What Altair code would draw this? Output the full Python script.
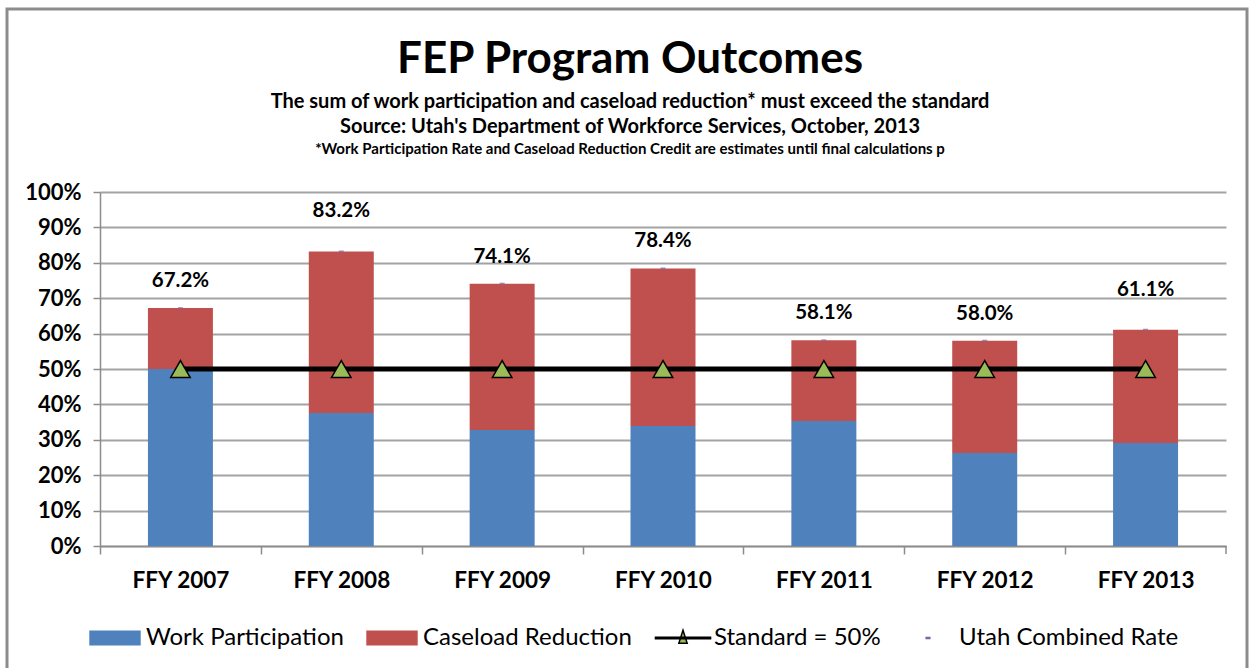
import altair as alt
import pandas as pd

# ---- data ----
YEARS = ["FFY 2007", "FFY 2008", "FFY 2009", "FFY 2010", "FFY 2011", "FFY 2012", "FFY 2013"]
WORK = [50.0, 37.6, 32.8, 33.9, 35.3, 26.3, 29.1]          # Work Participation (%)
TOTAL = [67.2, 83.2, 74.1, 78.4, 58.1, 58.0, 61.1]         # Utah Combined Rate (%)
STANDARD = [50, 50, 50, 50, 50, 50, 50]                    # Standard = 50%
SERIES = ["Work Participation", "Caseload Reduction", "Standard = 50%", "Utah Combined Rate"]
Y_TICKS = [0, 10, 20, 30, 40, 50, 60, 70, 80, 90, 100]
RAISED_LABELS = ["FFY 2008", "FFY 2013"]

TITLE = "FEP Program Outcomes"
SUB1 = "The sum of work participation and caseload reduction* must exceed the standard"
SUB2 = "Source: Utah's Department of Workforce Services, October, 2013"
SUB3 = "*Work Participation Rate and Caseload Reduction Credit are estimates until final calculations p"

BLUE, RED, GREEN, PURPLE = "#4F81BD", "#C0504D", "#9BBB59", "#8064A2"
GRID = "#a3a3a3"
AXIS = "#8c8c8c"
FONT = "Lato"

# ---- tables ----
bars = pd.DataFrame(
    [{"year": y, "series": "Work Participation", "start": 0.0, "end": w}
     for y, w in zip(YEARS, WORK)]
    + [{"year": y, "series": "Caseload Reduction", "start": w, "end": t}
       for y, w, t in zip(YEARS, WORK, TOTAL)]
)
totals = pd.DataFrame({"year": YEARS, "total": TOTAL})
std = pd.DataFrame({"year": YEARS, "std": STANDARD})
legend_df = pd.DataFrame({"legend_series": SERIES})

W, H = 1126, 354
STEP = W / len(YEARS)

x_scale = alt.Scale(domain=YEARS, paddingInner=0.596, paddingOuter=0.298)
x_axis = alt.Axis(title=None, labelAngle=0, labelFont=FONT, labelFontWeight="bold",
                  labelFontSize=22.5, labelColor="black", tickSize=8,
                  tickOffset=-STEP / 2, labelOffset=STEP / 2, tickColor=AXIS, tickWidth=1.5,
                  domainColor=AXIS, domainWidth=1.5, labelPadding=15, grid=False)
y_scale = alt.Scale(domain=[0, 100], nice=False)
y_axis = alt.Axis(title=None, values=Y_TICKS, labelExpr="datum.value + '%'",
                  labelFont=FONT, labelFontWeight="bold", labelFontSize=22,
                  labelColor="black", tickSize=7, tickColor=AXIS, tickWidth=1.5,
                  domainColor=AXIS, domainWidth=1.5, labelPadding=12, labelOverlap=False,
                  grid=True, gridColor=GRID, gridWidth=1.8, tickCount=11)


def X():
    return alt.X("year:N", sort=YEARS, scale=x_scale, axis=x_axis)


def Y(field):
    return alt.Y(field, scale=y_scale, axis=y_axis)


bar_layer = alt.Chart(bars).mark_bar().encode(
    x=X(),
    y=Y("start:Q"),
    y2="end:Q",
    color=alt.Color("series:N", scale=alt.Scale(domain=SERIES[:2], range=[BLUE, RED]),
                    legend=None),
)

dash_layer = alt.Chart(totals).mark_tick(color=PURPLE, size=5, thickness=2, orient="horizontal").encode(
    x=X(), y=Y("total:Q"),
)

label_base = alt.Chart(totals).transform_calculate(
    lab="format(datum.total, '.1f') + '%'"
)
label_normal = label_base.transform_filter(
    alt.FieldOneOfPredicate(field="year", oneOf=[y for y in YEARS if y not in RAISED_LABELS])
).mark_text(font=FONT, fontWeight="bold", fontSize=20.5, color="black", dy=-27, baseline="middle").encode(
    x=X(), y=Y("total:Q"), text="lab:N"
)
label_raised = label_base.transform_filter(
    alt.FieldOneOfPredicate(field="year", oneOf=RAISED_LABELS)
).mark_text(font=FONT, fontWeight="bold", fontSize=20.5, color="black", dy=-40, baseline="middle").encode(
    x=X(), y=Y("total:Q"), text="lab:N"
)

std_line = alt.Chart(std).mark_line(color="black", strokeWidth=5).encode(
    x=X(), y=Y("std:Q")
)
std_pts = alt.Chart(std).mark_point(shape="triangle-up", filled=True, fill=GREEN, stroke="black",
                                     strokeWidth=1.5, size=380, opacity=1).encode(
    x=X(), y=Y("std:Q")
)

# closing tick at the right end of the category axis
end_tick = alt.Chart(alt.Data(values=[{}])).mark_rule(color=AXIS, strokeWidth=1.5).encode(
    x=alt.value(W), y=alt.value(H), y2=alt.value(H + 8)
)

# legend carrier (drawn off-view, clipped)
SHAPES = [
    "M-0.96,-0.26H0.96V0.26H-0.96Z",
    "M-0.96,-0.26H0.96V0.26H-0.96Z",
    "M-1.06,-0.025H1.06V0.025H-1.06Z M0,-0.3L0.16,0.2L-0.16,0.2Z",
    "M-0.07,-0.02H0.07V0.02H-0.07Z",
]
legend_layer = alt.Chart(legend_df).mark_point(filled=True, strokeWidth=2.2, clip=True).encode(
    x=alt.value(-3000), y=alt.value(-3000),
    fill=alt.Fill("legend_series:N", sort=SERIES,
                  scale=alt.Scale(domain=SERIES, range=[BLUE, RED, GREEN, PURPLE]),
                  legend=alt.Legend(title=None)),
    stroke=alt.Stroke("legend_series:N", sort=SERIES,
                      scale=alt.Scale(domain=SERIES, range=[BLUE, RED, "black", PURPLE]),
                      legend=alt.Legend(title=None)),
    shape=alt.Shape("legend_series:N", sort=SERIES,
                    scale=alt.Scale(domain=SERIES, range=SHAPES),
                    legend=alt.Legend(title=None)),
)

one = alt.Data(values=[{}])
border = alt.Chart(one).mark_rect(fill=None, stroke=AXIS, strokeWidth=3).encode(
    x=alt.value(-93), x2=alt.value(1147), y=alt.value(-183), y2=alt.value(500)
)
cx = 630 - 100
t_main = alt.Chart(one).mark_text(text=TITLE, font=FONT, fontWeight="bold", fontSize=44,
                                  color="black", baseline="middle").encode(
    x=alt.value(cx), y=alt.value(60 - 192))
t1 = alt.Chart(one).mark_text(text=SUB1, font=FONT, fontWeight="bold", fontSize=20,
                              color="black", baseline="middle").encode(
    x=alt.value(cx), y=alt.value(102 - 192))
t2 = alt.Chart(one).mark_text(text=SUB2, font=FONT, fontWeight="bold", fontSize=20,
                              color="black", baseline="middle").encode(
    x=alt.value(cx), y=alt.value(127 - 192))
t3 = alt.Chart(one).mark_text(text=SUB3, font=FONT, fontWeight="bold", fontSize=15,
                              color="black", baseline="middle").encode(
    x=alt.value(cx), y=alt.value(149 - 192))

chart = alt.layer(
    border, legend_layer, bar_layer, dash_layer, std_line, std_pts,
    label_normal, label_raised, end_tick, t_main, t1, t2, t3,
).properties(
    width=W, height=H,
    padding={"left": 100, "top": 192, "right": 24, "bottom": 122},
    autosize=alt.AutoSizeParams(type="none"),
    background="white",
).configure_view(stroke=None).configure_legend(
    orient="none", legendX=-12, legendY=419, direction="horizontal",
    symbolSize=2704, labelFont=FONT, labelFontSize=24, labelColor="black",
    labelOffset=4, columnPadding=20, labelLimit=500, symbolOpacity=1,
)

chart.save("out.html", embed_options={"renderer": "svg", "actions": False})
